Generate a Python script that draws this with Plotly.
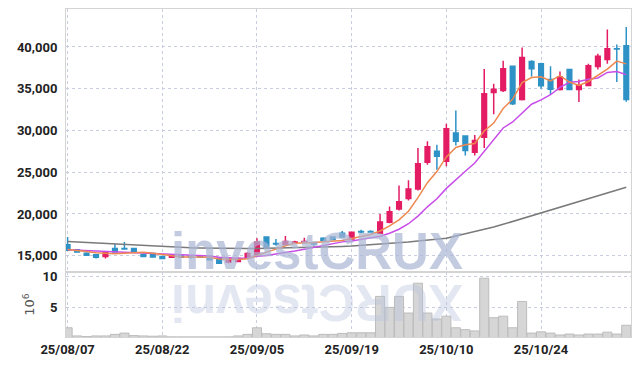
import plotly.graph_objects as go

dates = ["25/08/07","25/08/08","25/08/11","25/08/12","25/08/13","25/08/14","25/08/18","25/08/19","25/08/20","25/08/21",
         "25/08/22","25/08/25","25/08/26","25/08/27","25/08/28","25/08/29","25/09/01","25/09/02","25/09/03","25/09/04",
         "25/09/05","25/09/08","25/09/09","25/09/10","25/09/11","25/09/12","25/09/15","25/09/16","25/09/17","25/09/18",
         "25/09/19","25/09/22","25/09/23","25/09/24","25/09/25","25/09/26","25/09/29","25/09/30","25/10/01","25/10/02",
         "25/10/10","25/10/13","25/10/14","25/10/15","25/10/16","25/10/17","25/10/20","25/10/21","25/10/22","25/10/23",
         "25/10/24","25/10/27","25/10/28","25/10/29","25/10/30","25/10/31","25/11/03","25/11/04","25/11/05","25/11/06"]

opens = [16300,15700,15300,15100,14900,15850,15850,15850,15100,15250,
         14900,14800,14950,14850,14900,14850,14700,14250,14300,14750,
         15100,17250,16450,16350,16600,16650,16450,17100,17250,17700,
         17000,17900,17900,17700,19000,20600,21850,23000,26200,27500,
         26300,29700,29350,27400,29200,34550,34800,37700,33700,38250,
         38000,36100,34900,37300,34900,35400,37650,38500,39800,40150]
highs = [17250,15800,15400,15150,15450,16400,16650,15900,15150,15300,
         14950,15100,15000,15000,14950,14900,14750,14650,14700,15450,
         17100,17300,17000,17350,16800,17150,16650,17200,17300,17950,
         17900,18100,18050,20000,20900,23400,24050,27900,28700,28300,
         30800,32400,29400,29450,37350,35600,38350,37750,39950,38400,
         38100,37700,37050,37350,36100,38000,39200,42100,40300,42400]
lows = [15550,15350,14950,14650,14650,15400,15700,15450,14850,14800,
        14600,14750,14750,14650,14800,14450,14050,14100,14250,14700,
        15000,15900,16200,16250,16400,16550,16200,16750,16900,17150,
        16900,17700,17750,17600,18900,20400,21600,22800,25900,25300,
        25700,28200,27000,27000,27900,31950,34600,33050,33600,36450,
        35000,34300,34800,34850,33400,35300,37300,38000,35800,33450]
closes = [15650,15450,15050,14800,15400,15450,15800,15500,14900,14850,
          14650,15050,14800,14800,14850,14500,14100,14600,14650,15250,
          16650,16000,16400,16700,16650,16700,16400,16850,16950,17250,
          17800,17850,17850,19050,20250,21450,23000,26000,28050,26900,
          30200,28700,27600,28800,34400,34950,37400,33200,38750,37400,
          35350,34950,36400,34900,35350,37750,38900,39800,39750,33700]

ma5 = [15750,15650,15500,15350,15270,15230,15300,15390,15410,15300,
       15140,14990,14850,14830,14830,14800,14610,14570,14540,14620,
       15050,15430,15790,16200,16480,16490,16570,16660,16710,16830,
       17050,17340,17540,17960,18560,19290,20320,21950,23750,25080,
       26830,27970,28290,28440,29940,30890,32630,33750,35740,36340,
       36420,35930,36570,35800,35390,35870,36660,37340,38310,37980]
ma10 = [15700,15650,15600,15550,15500,15450,15400,15350,15320,15285,
        15185,15145,15120,15120,15065,14970,14800,14710,14685,14725,
        14925,15020,15180,15370,15550,15770,16000,16225,16455,16655,
        16770,16955,17100,17335,17695,18170,18830,19745,20855,21820,
        23060,24145,25120,26095,27510,28860,30300,31020,32090,33140,
        33655,34280,35160,35770,35865,36145,36295,36955,37055,36685]
ma_long = [16700,16640,16580,16520,16460,16400,16330,16260,16190,16120,
           16050,16020,15990,15960,15930,15900,15890,15880,15870,15860,
           15850,15870,15890,15910,15930,15960,16000,16040,16080,16110,
           16150,16220,16290,16350,16450,16550,16650,16760,16870,16980,
           17100,17350,17600,17850,18100,18430,18760,19100,19430,19770,
           20100,20430,20760,21090,21420,21750,22100,22450,22800,23200]

volume = [1.8,0.5,0.4,0.5,0.5,0.75,0.95,0.55,0.5,0.45,
          0.5,0.35,0.35,0.35,0.35,0.35,0.35,0.35,0.5,0.75,
          1.8,0.85,0.75,0.75,0.5,0.65,0.5,0.75,0.75,0.9,
          1.0,1.0,1.0,6.8,5.05,6.8,4.15,8.9,4.15,3.2,
          3.65,1.8,1.5,1.3,9.7,3.4,3.65,1.8,6.0,0.95,
          1.15,0.95,0.65,0.8,0.65,0.8,0.8,1.1,0.8,2.2]

price_ticks = [15000, 20000, 25000, 30000, 35000, 40000]
vol_ticks = [5, 10]
date_ticks = dates[::10]

RED = "#e31c63"
BLUE = "#2e92c6"
GRID = "#c9cde0"
FRAME = "#d4d4d4"
TICKFONT = dict(family="Roboto, sans-serif", size=13, color="#222222", weight="bold")

fig = go.Figure()

fig.add_trace(go.Bar(x=dates, y=volume, xaxis="x2", yaxis="y2",
                     marker=dict(color="#d6d6d6", line=dict(color="#bcbcbc", width=1)),
                     showlegend=False, hoverinfo="skip"))

fig.add_trace(go.Scatter(x=dates, y=ma_long, mode="lines", line=dict(color="#7a7a7a", width=1.5),
                         showlegend=False, hoverinfo="skip"))
fig.add_trace(go.Candlestick(x=dates, open=opens, high=highs, low=lows, close=closes,
                             increasing=dict(line=dict(color=RED, width=1.5), fillcolor=RED),
                             decreasing=dict(line=dict(color=BLUE, width=1.5), fillcolor=BLUE),
                             whiskerwidth=0, showlegend=False))
fig.add_trace(go.Scatter(x=dates, y=ma10, mode="lines", line=dict(color="#c84de8", width=1.5),
                         showlegend=False, hoverinfo="skip"))
fig.add_trace(go.Scatter(x=dates, y=ma5, mode="lines", line=dict(color="#ee8850", width=1.5),
                         showlegend=False, hoverinfo="skip"))

xr = [-0.17, 59.5]
common_x = dict(type="category", range=xr, tickmode="array", tickvals=date_ticks,
                showgrid=True, gridcolor=GRID, griddash="dot", gridwidth=1,
                showline=True, linecolor=FRAME, linewidth=1, mirror=True,
                zeroline=False, ticks="", automargin=False)

fig.update_layout(
    width=639, height=366,
    margin=dict(l=66, r=8, t=9, b=29),
    paper_bgcolor="white", plot_bgcolor="white",
    bargap=0.04,
    xaxis=dict(common_x, anchor="y", domain=[0, 1], showticklabels=False,
               rangeslider=dict(visible=False)),
    xaxis2=dict(common_x, anchor="y2", domain=[0, 1], matches="x", showticklabels=True,
                ticktext=date_ticks, tickfont=TICKFONT),
    yaxis=dict(domain=[0.197, 1], range=[13000, 44550], tickmode="array", tickvals=price_ticks,
               tickformat=",", tickfont=TICKFONT, showgrid=True, gridcolor=GRID, griddash="dot",
               showline=True, linecolor=FRAME, mirror=True, zeroline=False, automargin=False,
               ticks="outside", ticklen=5, tickcolor="rgba(0,0,0,0)"),
    yaxis2=dict(domain=[0, 0.197], range=[0.33, 10.63], tickmode="array", tickvals=vol_ticks,
                tickfont=TICKFONT, showgrid=True, gridcolor=GRID, griddash="dot",
                showline=True, linecolor=FRAME, mirror=True, zeroline=False, automargin=False,
                ticks="outside", ticklen=5, tickcolor="rgba(0,0,0,0)",
                title=dict(text="10<sup>6</sup>", font=dict(family="DejaVu Sans", size=13, color="#555555"),
                           standoff=4)),
    annotations=[
        dict(text="investCRUX", xref="paper", yref="paper", x=0.444, y=0.262,
             xanchor="center", yanchor="middle", showarrow=False,
             font=dict(family="Liberation Sans, Arial, sans-serif", size=51, color="rgba(170,181,212,0.7)", weight="bold")),
        dict(text="XURCtsevni", xref="paper", yref="paper", x=0.444, y=0.105,
             xanchor="center", yanchor="middle", showarrow=False, textangle=180,
             font=dict(family="Liberation Sans, Arial, sans-serif", size=51, color="rgba(185,194,220,0.4)", weight="bold")),
    ],
)

fig.write_html("out.html", config={"displayModeBar": False},
               post_script="document.body.style.margin='0';document.body.style.padding='0';document.body.style.overflow='hidden';")
